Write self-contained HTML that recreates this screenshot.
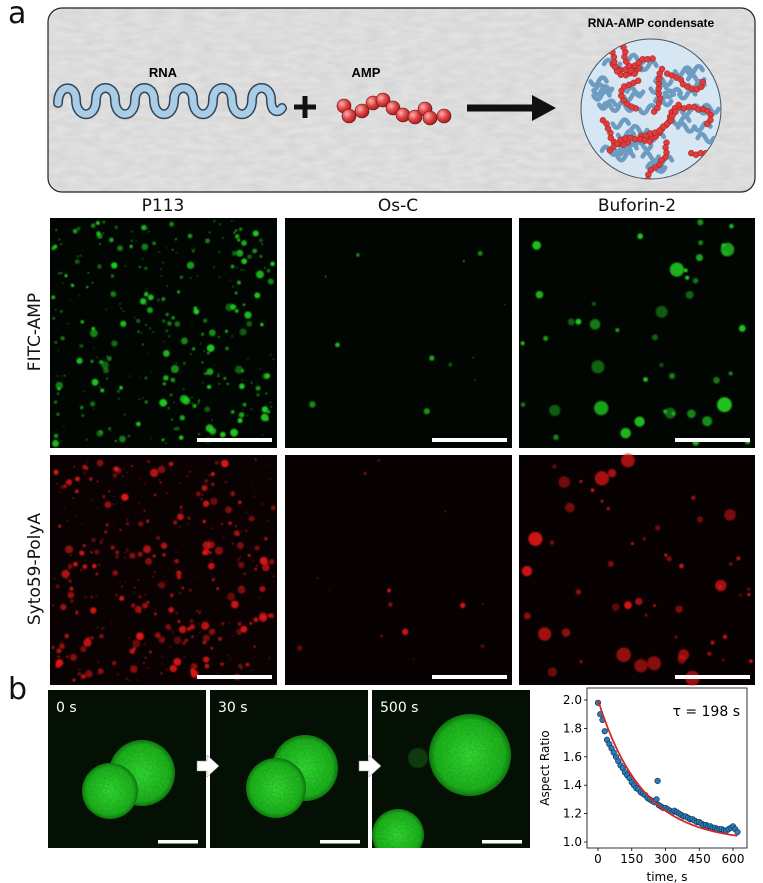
<!DOCTYPE html>
<html><head><meta charset="utf-8">
<style>
body{margin:0;background:#fff;width:763px;height:883px;position:relative;overflow:hidden;font-family:"DejaVu Sans","Liberation Sans",sans-serif;}
.abs{position:absolute;}
.lbl{font-size:30px;color:#111;}
.col{font-size:17px;color:#111;text-align:center;width:240px;top:196px;}
.row{font-size:17px;color:#111;transform:rotate(-90deg);transform-origin:center;white-space:nowrap;width:200px;text-align:center;}
</style></head><body>
<div class="abs lbl" style="left:8px;top:-4px;">a</div>
<div class="abs lbl" style="left:8px;top:672px;">b</div>

<svg class="abs" style="left:0;top:0" width="763" height="200">
<defs>
<filter id="tex"><feTurbulence type="fractalNoise" baseFrequency="0.06 0.18" numOctaves="3" seed="4"/><feColorMatrix values="0 0 0 0 0.6 0 0 0 0 0.6 0 0 0 0 0.6 0 0 0 1.2 -0.3"/></filter>
<radialGradient id="bead" cx="0.35" cy="0.35" r="0.7"><stop offset="0" stop-color="#ffb0b0"/><stop offset="0.5" stop-color="#e04848"/><stop offset="1" stop-color="#a01818"/></radialGradient>
<clipPath id="bc"><rect x="48" y="8" width="707" height="184" rx="14"/></clipPath>
<clipPath id="ec"><ellipse cx="651" cy="109" rx="70" ry="70"/></clipPath>
</defs>
<rect x="48" y="8" width="707" height="184" rx="14" fill="#e2e2e2"/>
<rect x="48" y="8" width="707" height="184" fill="#999" filter="url(#tex)" clip-path="url(#bc)" opacity="0.8"/>
<rect x="48" y="8" width="707" height="184" rx="14" fill="none" stroke="#222" stroke-width="1.2"/>
<text x="163" y="77" font-family="Liberation Sans" font-weight="bold" font-size="13" text-anchor="middle">RNA</text>
<text x="366" y="77" font-family="Liberation Sans" font-weight="bold" font-size="13" text-anchor="middle">AMP</text>
<text x="651" y="27" font-family="Liberation Sans" font-weight="bold" font-size="12" text-anchor="middle">RNA-AMP condensate</text>
<g>
<path d="M58,103 C58,84 76,84 76,100 C76,119 96,119 96,100 C96,84 115,84 115,100 C115,119 135,119 135,100 C135,84 154,84 154,100 C154,119 174,119 174,100 C174,84 193,84 193,100 C193,119 213,119 213,100 C213,84 232,84 232,100 C232,119 252,119 252,100 C252,84 271,84 271,100 C271,112 278,114 282,108" fill="none" stroke="#345" stroke-width="10" stroke-linecap="round"/>
<path d="M58,103 C58,84 76,84 76,100 C76,119 96,119 96,100 C96,84 115,84 115,100 C115,119 135,119 135,100 C135,84 154,84 154,100 C154,119 174,119 174,100 C174,84 193,84 193,100 C193,119 213,119 213,100 C213,84 232,84 232,100 C232,119 252,119 252,100 C252,84 271,84 271,100 C271,112 278,114 282,108" fill="none" stroke="#a9cde6" stroke-width="7" stroke-linecap="round"/>
</g>
<path d="M294,107 h22 M305,96 v22" stroke="#111" stroke-width="5"/>
<g stroke="#611" stroke-width="0.6">
<circle cx="344" cy="106" r="7" fill="url(#bead)"/><circle cx="349" cy="116" r="7" fill="url(#bead)"/><circle cx="362" cy="111" r="7" fill="url(#bead)"/><circle cx="373" cy="103" r="7" fill="url(#bead)"/><circle cx="383" cy="100" r="7" fill="url(#bead)"/><circle cx="393" cy="108" r="7" fill="url(#bead)"/><circle cx="403" cy="115" r="7" fill="url(#bead)"/><circle cx="415" cy="117" r="7" fill="url(#bead)"/><circle cx="425" cy="109" r="7" fill="url(#bead)"/><circle cx="430" cy="118" r="7" fill="url(#bead)"/><circle cx="444" cy="116" r="7" fill="url(#bead)"/>
</g>
<path d="M467,108 H535" stroke="#111" stroke-width="7"/><path d="M532,95 L556,108 L532,121 Z" fill="#111"/>
<ellipse cx="651" cy="109" rx="70" ry="70" fill="#d6e6f2" stroke="#456" stroke-width="1"/>
<g id="cond" clip-path="url(#ec)"></g>
</svg>

<div class="abs col" style="left:43px;">P113</div>
<div class="abs col" style="left:278px;">Os-C</div>
<div class="abs col" style="left:517px;">Buforin-2</div>
<div class="abs row" style="left:-65px;top:322px;">FITC-AMP</div>
<div class="abs row" style="left:-65px;top:559px;">Syto59-PolyA</div>

<svg id="micro" class="abs" style="left:0;top:0" width="763" height="883"></svg>

<svg id="chart" class="abs" style="left:540px;top:685px" width="223" height="198"></svg>

<script>
const NS="http://www.w3.org/2000/svg";
function mk(p,t,a){const e=document.createElementNS(NS,t);for(const k in a)e.setAttribute(k,a[k]);p.appendChild(e);return e;}
let seed=7;function rnd(){seed=(seed*16807)%2147483647;return seed/2147483647;}
const cond=document.getElementById('cond');
for(let i=0;i<45;i++){const a=rnd()*6.28,r=Math.sqrt(rnd())*62;const x=651+Math.cos(a)*r,y=109+Math.sin(a)*r;const s=rnd()<0.5?1:-1;
 mk(cond,'path',{d:`M${x-8},${y} q4,${-8*s} 8,0 q4,${8*s} 8,0`,fill:'none',stroke:'#6d9cc0','stroke-width':4.5,'stroke-linecap':'round'});}
for(let k=0;k<14;k++){let x=651+(rnd()-0.5)*110,y=109+(rnd()-0.5)*110,ang=rnd()*6.28;
 for(let i=0;i<10;i++){ang+=(rnd()-0.5)*1.4;x+=Math.cos(ang)*5;y+=Math.sin(ang)*5;
  mk(cond,'circle',{cx:x,cy:y,r:3,fill:'#e03c3c',stroke:'#811','stroke-width':0.4});}}

const m=document.getElementById('micro');
mk(m,'defs',{}).innerHTML='<filter id="bl"><feGaussianBlur stdDeviation="0.7"/></filter><radialGradient id="gd" cx="0.5" cy="0.5" r="0.5"><stop offset="0" stop-color="#3ee83e"/><stop offset="0.85" stop-color="#22b822"/><stop offset="1" stop-color="#147014"/></radialGradient><filter id="grain"><feTurbulence type="fractalNoise" baseFrequency="0.5" numOctaves="2" seed="3"/><feColorMatrix values="0 0 0 0 0 0 0 0 0 0.2 0 0 0 0 0 0 0 0 0.5 0"/><feComposite in2="SourceGraphic" operator="in"/></filter>';
const cols=[[50,277],[285,512],[519,755]],rows=[[218,448],[455,685]];
const counts=[[[320,0.7,3.5],[12,0.7,3],[45,2,6]],[[380,0.7,3.5],[14,0.7,3],[55,1.5,6]]];
rows.forEach((r,ri)=>cols.forEach((c,ci)=>{
 const g=mk(m,'g',{});
 mk(g,'rect',{x:c[0],y:r[0],width:c[1]-c[0],height:r[1]-r[0],fill:ri==0?'#020602':(ci==0?'#0a0202':'#080101')});
 const [n,rmin,rmax]=counts[ri][ci];const col=ri==0?'#22d022':'#e01818';
 for(let i=0;i<n;i++){const rr=rmin+Math.pow(rnd(),2.5)*rmax;const op=0.4+rnd()*0.6;
  mk(g,'circle',{cx:c[0]+3+rnd()*(c[1]-c[0]-6),cy:r[0]+3+rnd()*(r[1]-r[0]-6),r:rr,fill:col,opacity:op,filter:'url(#bl)'});}
 mk(g,'rect',{x:c[1]-80,y:r[1]-10,width:75,height:4,fill:'#fff'});
}));
const bp=[[48,206],[210,368],[372,530]],ty=690,by=848;
const drops=[[[142,773,33],[110,791,28]],[[305,768,33],[276,788,30]],[[470,755,41],[398,835,26]]];
const times=['0 s','30 s','500 s'];
bp.forEach((c,i)=>{const g=mk(m,'g',{});
 mk(g,'clipPath',{id:'cp'+i}).appendChild(document.createElementNS(NS,'rect'));
 const cr=g.lastChild.firstChild;cr.setAttribute('x',c[0]);cr.setAttribute('y',ty);cr.setAttribute('width',c[1]-c[0]);cr.setAttribute('height',by-ty);
 mk(g,'rect',{x:c[0],y:ty,width:c[1]-c[0],height:by-ty,fill:'#031003'});
 const gg=mk(g,'g',{'clip-path':`url(#cp${i})`});
 drops[i].forEach(d=>{mk(gg,'circle',{cx:d[0],cy:d[1],r:d[2],fill:'url(#gd)'});mk(gg,'circle',{cx:d[0],cy:d[1],r:d[2],fill:'#000',filter:'url(#grain)'});});
 if(i==2)mk(gg,'circle',{cx:418,cy:758,r:10,fill:'#0c3a0c',filter:'url(#bl)'});
 const t=mk(g,'text',{x:c[0]+8,y:ty+22,fill:'#fff','font-size':14,'font-family':'DejaVu Sans'});t.textContent=times[i];
 mk(g,'rect',{x:c[1]-48,y:by-8,width:40,height:3.5,fill:'#fff'});
});
[[197,766],[359,766]].forEach(a=>{const p=mk(m,'path',{d:`M${a[0]},${a[1]-5} h10 v-6 l12,11 l-12,11 v-6 h-10 z`,fill:'#fff',stroke:'#888','stroke-width':0.5});});
</script>

<script>
const tVals=[0,10,20,30,40,50,60,70,80,90,100,110,120,130,140,150,160,170,180,190,200,210,220,230,240,250,260,265,270,280,290,300,310,320,330,340,350,360,370,380,390,400,410,420,430,440,450,460,470,480,490,500,510,520,530,540,550,560,570,580,590,600,610,620];
const arVals=[1.98,1.9,1.86,1.78,1.72,1.69,1.66,1.63,1.6,1.57,1.54,1.52,1.49,1.47,1.45,1.42,1.40,1.38,1.37,1.35,1.34,1.33,1.31,1.30,1.29,1.28,1.30,1.43,1.26,1.25,1.24,1.24,1.23,1.22,1.21,1.22,1.21,1.20,1.19,1.18,1.18,1.17,1.16,1.16,1.15,1.14,1.14,1.13,1.12,1.12,1.11,1.11,1.10,1.10,1.09,1.09,1.09,1.08,1.08,1.09,1.10,1.11,1.09,1.07];
const xTicks=[0,150,300,450,600];
const yTicks=[1.0,1.2,1.4,1.6,1.8,2.0];
const tau=198, fitA=1.0, fitC=1.0;
const c=document.getElementById('chart');
const X=v=>58+v*(135/600), Y=v=>157-(v-1.0)*142;
const L=47,R=207,T=3,B=163;
function add(t,a){const e=document.createElementNS("http://www.w3.org/2000/svg",t);for(const k in a)e.setAttribute(k,a[k]);c.appendChild(e);return e;}
const fr=add('rect',{x:L,y:T,width:R-L,height:B-T,fill:'#fff',stroke:'#000','stroke-width':0.8});

xTicks.forEach(v=>{add('line',{x1:X(v),x2:X(v),y1:B,y2:B+3,stroke:'#000','stroke-width':0.8});
 const t=add('text',{x:X(v),y:B+15,'text-anchor':'middle','font-size':12,'font-family':'DejaVu Sans'});t.textContent=v;
 });
yTicks.forEach(v=>{add('line',{x1:L-3,x2:L,y1:Y(v),y2:Y(v),stroke:'#000','stroke-width':0.8});
 const t=add('text',{x:L-5,y:Y(v)+4,'text-anchor':'end','font-size':12,'font-family':'DejaVu Sans'});t.textContent=v.toFixed(1);
 });
const xt=add('text',{x:127,y:196,'text-anchor':'middle','font-size':12,'font-family':'DejaVu Sans'});xt.textContent='time, s';

const yt=add('text',{x:0,y:0,'text-anchor':'middle','font-size':12,'font-family':'DejaVu Sans',transform:'translate(9,83) rotate(-90)'});yt.textContent='Aspect Ratio';

const tl=add('text',{x:200,y:31,'text-anchor':'end','font-size':14,'font-family':'DejaVu Sans'});tl.textContent='\u03C4 = '+tau+' s';

tVals.forEach((t,i)=>{const p=add('circle',{cx:X(t),cy:Y(arVals[i]),r:2.8,fill:'#2b7bb9',stroke:'#0c2a44','stroke-width':0.6});
 });
let d='';for(let t=0;t<=620;t+=5){d+=(t?'L':'M')+X(t).toFixed(1)+','+Y(fitC+fitA*Math.exp(-t/tau)).toFixed(1);}
const fl=add('path',{d:d,fill:'none',stroke:'#d62728','stroke-width':1.8});

</script>
</body></html>
